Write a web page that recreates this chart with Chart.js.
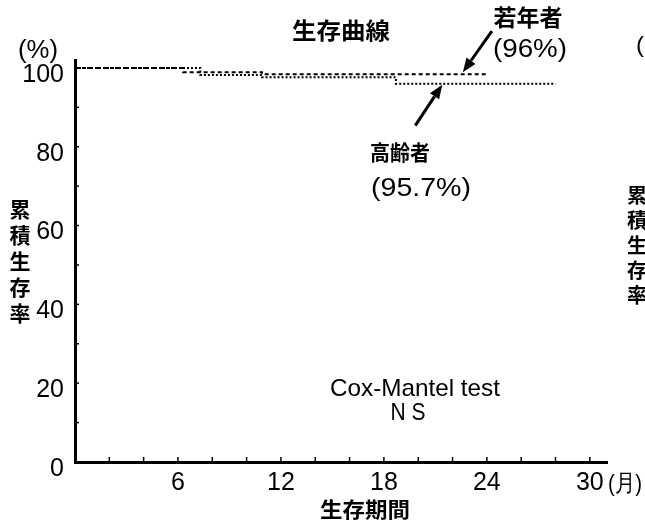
<!DOCTYPE html>
<html><head><meta charset="utf-8">
<script src="https://cdn.jsdelivr.net/npm/chart.js@4/dist/chart.umd.min.js"></script>
<style>html,body{margin:0;padding:0;background:#fff;}</style>
</head><body>
<canvas id="c" width="645" height="521"></canvas>
<script>
// Kaplan-Meier style survival curves (cumulative survival %, months)
const youngMonths   = [0, 6.3, 10.9, 24.0];
const youngSurvival = [100, 98.9, 98.4, 98.4];
const oldMonths     = [0, 7.3, 10.9, 18.7, 28.0];
const oldSurvival   = [100, 98.2, 97.6, 96.0, 96.0];
const xLabelTicks = [6, 12, 18, 24, 30];
const yLabelTicks = [0, 20, 40, 60, 80, 100];

const toPoints = (xs, ys) => xs.map((x, i) => ({x: x, y: ys[i]}));
const LATIN = "'Liberation Sans', Arial, sans-serif";
const CJK = "'Noto Sans CJK JP', sans-serif";

function fitText(ctx, txt, cx, cy, font, w) {
  ctx.save();
  ctx.font = font; ctx.fillStyle = '#000';
  ctx.textAlign = 'center'; ctx.textBaseline = 'middle';
  const m = ctx.measureText(txt).width;
  ctx.translate(cx, cy); ctx.scale(w / m, 1);
  ctx.fillText(txt, 0, 0);
  ctx.restore();
}
function arrow(ctx, x1, y1, x2, y2) {
  const ang = Math.atan2(y2 - y1, x2 - x1);
  const hl = 14, hw = 5.5;
  const bx = x2 - hl * Math.cos(ang), by = y2 - hl * Math.sin(ang);
  ctx.save();
  ctx.strokeStyle = '#000'; ctx.fillStyle = '#000'; ctx.lineWidth = 3;
  ctx.beginPath(); ctx.moveTo(x1, y1); ctx.lineTo(bx, by); ctx.stroke();
  ctx.beginPath();
  ctx.moveTo(x2, y2);
  ctx.lineTo(bx + hw * Math.sin(ang), by - hw * Math.cos(ang));
  ctx.lineTo(bx - hw * Math.sin(ang), by + hw * Math.cos(ang));
  ctx.closePath(); ctx.fill();
  ctx.restore();
}

const decor = {
  id: 'decor',
  afterDraw(chart) {
    const ctx = chart.ctx, xs = chart.scales.x, ys = chart.scales.y;
    const ca = chart.chartArea;
    // inward tick marks
    ctx.save();
    ctx.strokeStyle = '#000'; ctx.lineWidth = 1.5;
    xs.ticks.forEach(t => {
      if (t.value > 0 && t.value % 2 === 0) {
        const p = xs.getPixelForValue(t.value);
        ctx.beginPath(); ctx.moveTo(p, ca.bottom); ctx.lineTo(p, ca.bottom - 5); ctx.stroke();
      }
    });
    ys.ticks.forEach(t => {
      if (t.value > 0 && t.value % 10 === 0) {
        const p = ys.getPixelForValue(t.value);
        ctx.beginPath(); ctx.moveTo(ca.left, p); ctx.lineTo(ca.left + 4, p); ctx.stroke();
      }
    });
    ctx.restore();

    // texts
    fitText(ctx, '(%)', 38, 51, '25px ' + LATIN, 40);
    fitText(ctx, '生存曲線', 341, 30, 'bold 23px ' + CJK, 98);
    fitText(ctx, '若年者', 528, 17, 'bold 23px ' + CJK, 69);
    fitText(ctx, '(96%)', 530, 50, '26px ' + LATIN, 74);
    fitText(ctx, '高齢者', 400, 152, 'bold 21px ' + CJK, 60);
    fitText(ctx, '(95.7%)', 421, 189, '26px ' + LATIN, 100);
    fitText(ctx, 'Cox-Mantel test', 415, 389, '24px ' + LATIN, 170);
    fitText(ctx, 'N S', 408, 413, '24px ' + LATIN, 35);
    fitText(ctx, '生存期間', 365, 509, 'bold 21px ' + CJK, 90);
    fitText(ctx, '(月)', 625, 484, '24px ' + LATIN, 34);
    const yTitle = ['累', '積', '生', '存', '率'];
    yTitle.forEach((c, i) => fitText(ctx, c, 20, 209 + i * 26, 'bold 21px ' + CJK, 21));
    // scan residue of neighbouring chart at right edge
    fitText(ctx, '(', 640, 46, '22px ' + LATIN, 8);
    yTitle.forEach((c, i) => fitText(ctx, c, 637, 195 + i * 25, 'bold 20px ' + CJK, 20));

    // arrows anchored to the curves
    const yt = {x: xs.getPixelForValue(22.6), y: ys.getPixelForValue(98.4) - 2};
    arrow(ctx, yt.x + 29, yt.y - 41, yt.x, yt.y);
    const ot = {x: xs.getPixelForValue(21.4), y: ys.getPixelForValue(96.0) + 1};
    arrow(ctx, ot.x - 27, ot.y + 41, ot.x, ot.y);
  }
};

new Chart(document.getElementById('c'), {
  type: 'line',
  data: {
    datasets: [
      {label: '若年者', data: toPoints(youngMonths, youngSurvival), stepped: true,
       borderColor: '#000', borderWidth: 2, borderDash: [4, 3], pointRadius: 0, fill: false},
      {label: '高齢者', data: toPoints(oldMonths, oldSurvival), stepped: true,
       borderColor: '#000', borderWidth: 2, borderDash: [2, 2], pointRadius: 0, fill: false}
    ]
  },
  options: {
    responsive: false, animation: false, devicePixelRatio: 1,
    layout: {padding: {top: 60, right: 38, left: 0, bottom: 0}},
    plugins: {legend: {display: false}, tooltip: {enabled: false}, title: {display: false}},
    scales: {
      x: {
        type: 'linear', min: 0, max: 31,
        grid: {display: false, drawTicks: false},
        border: {display: true, color: '#000', width: 3},
        ticks: {stepSize: 2, autoSkip: false, maxRotation: 0, includeBounds: false, padding: 6,
                color: '#000', font: {family: LATIN, size: 25},
                callback: v => xLabelTicks.includes(v) ? String(v) : ''},
        afterFit: s => { s.height = 59; }
      },
      y: {
        type: 'linear', min: 0, max: 102,
        grid: {display: false, drawTicks: false},
        border: {display: true, color: '#000', width: 3},
        ticks: {stepSize: 10, autoSkip: false, includeBounds: false, padding: 11, labelOffset: 7,
                color: '#000', font: {family: LATIN, size: 25},
                callback: v => yLabelTicks.includes(v) ? String(v) : ''},
        afterFit: s => { s.width = 75; }
      }
    }
  },
  plugins: [decor]
});
</script>
</body></html>
